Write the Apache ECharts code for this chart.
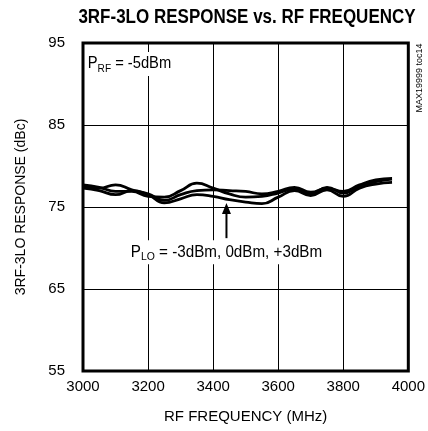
<!DOCTYPE html>
<html><head><meta charset="utf-8">
<script src="https://cdn.jsdelivr.net/npm/echarts@6/dist/echarts.min.js"></script>
<style>html,body{margin:0;padding:0;background:#fff}#c{width:428px;height:431px}</style>
</head><body><div id="c"></div>
<script>
const freqs = [3000,3050,3100,3150,3200,3250,3300,3350,3400,3450,3500,3550,3600,3650,3700,3750,3800,3850,3900,3950];
const respA = [77.7,77.4,76.9,76.9,76.3,76.2,77.0,77.9,77.3,76.6,76.2,76.3,76.7,77.2,76.6,77.4,76.7,77.5,78.1,78.4];
const respB = [77.5,77.3,77.7,77.1,76.6,75.8,76.5,77.0,77.1,77.0,76.9,76.6,76.9,77.4,76.8,77.3,76.9,77.7,78.3,78.5];
const respC = [77.3,77.0,76.5,77.0,76.5,75.5,76.0,76.5,76.3,75.9,75.6,75.4,76.2,77.0,76.4,77.1,76.3,77.3,77.8,78.0];
const xTicks = {min:3000, max:4000, interval:200};
const yTicks = {min:55, max:95, interval:10};
const arrowAt = {f:3441, top:75.5, bottom:71.2};

const FONT = '"Liberation Sans Narrow","Liberation Sans",Arial,sans-serif';
const chart = echarts.init(document.getElementById('c'), null, {renderer:'canvas'});
function mk(name, vals){
  return {type:'line', name:name, data:freqs.map((f,i)=>[f,vals[i]]), smooth:0.5, symbol:'none',
    lineStyle:{color:'#000', width:2.8}, z:5};
}
chart.setOption({
  animation:false,
  backgroundColor:'#fff',
  grid:{left:83, top:43, right:16, bottom:60, show:true, borderColor:'#000', borderWidth:3, backgroundColor:'transparent'},
  xAxis:{type:'value', min:xTicks.min, max:xTicks.max, interval:xTicks.interval,
    name:'RF FREQUENCY (MHz)', nameLocation:'middle', nameGap:38,
    nameTextStyle:{fontFamily:FONT, fontSize:15, color:'#000'},
    axisLine:{show:false}, axisTick:{show:false},
    axisLabel:{fontFamily:FONT, fontSize:15, color:'#000', margin:8, formatter:v=>String(v)},
    splitLine:{lineStyle:{color:'#000', width:1}}},
  yAxis:{type:'value', min:yTicks.min, max:yTicks.max, interval:yTicks.interval,
    name:'3RF-3LO RESPONSE (dBc)', nameLocation:'middle', nameGap:55,
    nameTextStyle:{fontFamily:FONT, fontSize:14, color:'#000'},
    axisLine:{show:false}, axisTick:{show:false},
    axisLabel:{fontFamily:FONT, fontSize:15, color:'#000', margin:18, formatter:v=>String(v)},
    splitLine:{lineStyle:{color:'#000', width:1}}},
  series:[mk('-3dBm',respA), mk('0dBm',respB), mk('+3dBm',respC)]
});
const pTop = chart.convertToPixel({gridIndex:0}, [arrowAt.f, arrowAt.top]);
const pBot = chart.convertToPixel({gridIndex:0}, [arrowAt.f, arrowAt.bottom]);
chart.setOption({graphic:[
  {type:'text', x:247, y:17, scaleX:0.85, z:10, style:{
    text:'3RF-3LO RESPONSE vs. RF FREQUENCY', fontFamily:FONT, fontWeight:'bold', fontSize:20, fill:'#000',
    align:'center', verticalAlign:'middle'}},
  {type:'line', shape:{x1:pTop[0], y1:pTop[1]+8, x2:pBot[0], y2:pBot[1]}, style:{stroke:'#000', lineWidth:2}, z:10},
  {type:'polygon', shape:{points:[[pTop[0],pTop[1]],[pTop[0]-4.5,pTop[1]+11],[pTop[0]+4.5,pTop[1]+11]]}, style:{fill:'#000'}, z:10},
  {type:'text', x:85, y:52, scaleX:0.92, z:10, style:{
    rich:{a:{fontFamily:FONT, fontSize:16, fill:'#000'}, s:{fontFamily:FONT, fontSize:11, fill:'#000', padding:[9,0,0,0]}},
    text:'{a|P}{s|RF}{a| = -5dBm}', backgroundColor:'#fff', padding:[2,3,2,3]}},
  {type:'text', x:pBot[0], y:pBot[1]+2, scaleX:0.95, z:10, style:{
    rich:{a:{fontFamily:FONT, fontSize:16, fill:'#000'}, s:{fontFamily:FONT, fontSize:11, fill:'#000', padding:[9,0,0,0]}},
    text:'{a|P}{s|LO}{a| = -3dBm, 0dBm, +3dBm}', align:'center', backgroundColor:'#fff', padding:[2,3,2,3]}},
  {type:'text', x:424, y:78, rotation:Math.PI/2, z:10, style:{
    text:'MAX19999 toc14', fontFamily:FONT, fontSize:9, fill:'#000', align:'center', verticalAlign:'bottom'}}
]});
</script></body></html>
